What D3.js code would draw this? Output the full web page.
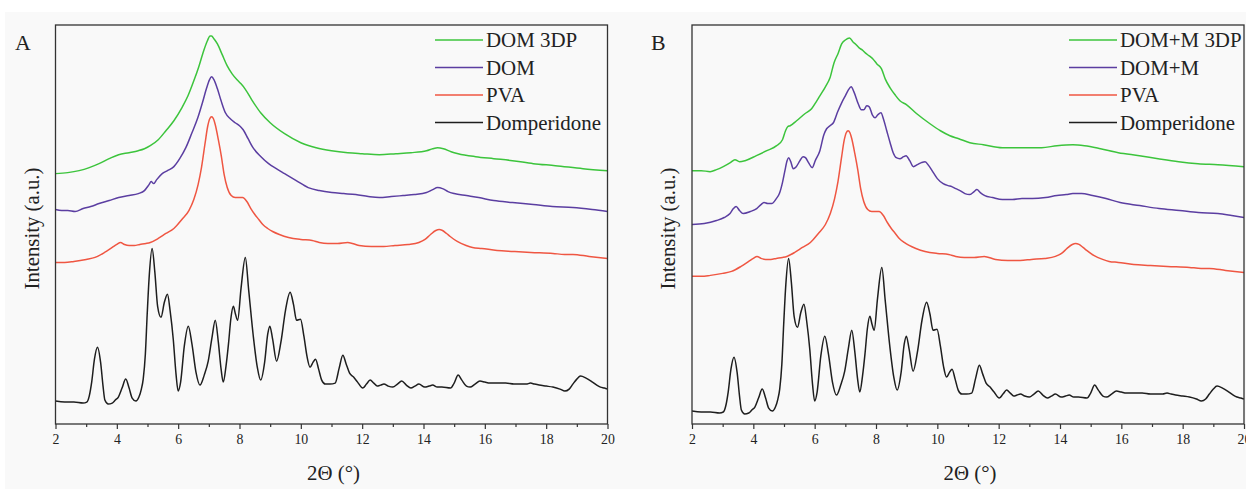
<!DOCTYPE html>
<html>
<head>
<meta charset="utf-8">
<script src="https://cdn.jsdelivr.net/npm/d3@7"></script>
<style>
  body { margin: 0; background: #fff; }
  svg text { font-family: "Liberation Serif", "DejaVu Serif", "Noto Serif", serif; fill: #222; }
</style>
</head>
<body>
<div id="chart"></div>
<script>
// XRD patterns: 2-theta (deg) vs intensity (a.u.)
const majorTicks = [2, 4, 6, 8, 10, 12, 14, 16, 18, 20];
const minorTicks = [3, 5, 7, 9, 11, 13, 15, 17, 19];

const domperidone = [[2.0,23],[2.3,22],[2.6,22],[2.9,21],[3.02,22],[3.1,28],[3.18,42],[3.27,65],[3.37,77],[3.47,62],[3.55,38],[3.61,24],[3.72,20],[3.85,21],[3.95,24],[4.05,27],[4.17,36],[4.29,45],[4.4,36],[4.5,26],[4.62,23],[4.72,27],[4.8,35],[4.86,45],[4.93,70],[4.99,110],[5.06,150],[5.15,176],[5.24,152],[5.33,118],[5.44,107],[5.55,122],[5.65,130],[5.74,113],[5.84,85],[5.93,50],[6.0,33],[6.08,42],[6.2,78],[6.33,98],[6.45,80],[6.58,52],[6.71,39],[6.85,49],[6.98,63],[7.1,86],[7.21,104],[7.31,82],[7.4,55],[7.47,42],[7.56,58],[7.64,80],[7.72,106],[7.8,118],[7.87,110],[7.94,104],[8.05,136],[8.19,167],[8.3,134],[8.45,88],[8.58,57],[8.69,44],[8.82,62],[8.92,90],[8.99,98],[9.08,85],[9.21,63],[9.35,82],[9.5,114],[9.65,132],[9.76,120],[9.86,104],[9.99,105],[10.1,88],[10.2,68],[10.3,57],[10.4,62],[10.48,65],[10.58,55],[10.68,44],[10.8,40],[10.95,40],[11.12,41],[11.25,56],[11.37,69],[11.48,60],[11.59,51],[11.72,47],[11.85,42],[12.02,36],[12.14,40],[12.26,44],[12.38,41],[12.49,38],[12.6,39],[12.71,40],[12.85,38],[13.0,37],[13.15,40],[13.29,43],[13.44,39],[13.59,36],[13.72,38],[13.85,40],[14.04,37],[14.18,38],[14.3,39],[14.45,37],[14.6,37],[14.88,36],[15.0,41],[15.13,49],[15.25,44],[15.4,38],[15.52,37],[15.68,40],[15.84,43],[16.0,42],[16.16,41],[16.4,41],[16.68,41],[16.95,40],[17.19,40],[17.35,40],[17.49,41],[17.62,40],[17.77,39],[18.0,38],[18.22,37],[18.45,35],[18.61,33],[18.75,35],[18.87,40],[19.0,45],[19.12,48],[19.3,46],[19.51,42],[19.65,39],[19.77,37],[19.9,36],[20.0,35]];

const pva = [[2.0,162],[2.3,162],[2.6,163],[3.0,165],[3.29,167],[3.6,172],[3.85,177],[4.0,180],[4.12,182],[4.25,180],[4.4,179],[4.57,179],[4.75,180],[4.95,181],[5.09,182],[5.35,186],[5.6,191],[5.86,196],[6.12,205],[6.35,214],[6.51,225],[6.65,240],[6.76,257],[6.88,282],[6.96,298],[7.03,306],[7.09,308],[7.15,306],[7.21,300],[7.31,285],[7.41,268],[7.5,250],[7.6,237],[7.73,229],[7.86,227],[8.0,227],[8.1,227],[8.24,223],[8.37,216],[8.5,210],[8.63,205],[8.76,200],[8.92,196],[9.08,193],[9.3,190],[9.6,187],[10.0,185],[10.37,184],[10.6,182],[10.88,181],[11.2,181],[11.53,182],[11.9,179],[12.3,178],[12.7,178],[13.07,179],[13.5,180],[13.85,182],[14.05,185],[14.23,190],[14.4,194],[14.51,195],[14.62,194],[14.75,191],[14.87,188],[15.1,183],[15.39,179],[15.6,177],[15.9,176],[16.4,174],[16.93,173],[17.5,172],[18.22,171],[18.6,170],[18.87,170],[19.4,168],[20.0,166]];

const dom = [[2.0,215],[2.2,214],[2.4,214],[2.64,213],[2.9,216],[3.15,218],[3.42,221],[3.75,224],[4.06,227],[4.4,229],[4.7,231],[4.9,234],[5.05,240],[5.12,243],[5.2,241],[5.3,245],[5.48,251],[5.65,254],[5.86,258],[6.05,266],[6.25,277],[6.45,292],[6.64,307],[6.8,323],[6.92,336],[7.02,345],[7.09,348],[7.17,345],[7.28,336],[7.4,324],[7.54,312],[7.7,306],[7.86,302],[8.0,299],[8.12,295],[8.28,286],[8.44,277],[8.7,268],[8.95,261],[9.2,256],[9.47,251],[9.85,244],[10.24,237],[10.6,234],[11.01,232],[11.4,231],[11.79,230],[12.2,228],[12.56,227],[12.95,228],[13.33,229],[13.7,230],[14.1,232],[14.3,235],[14.46,237],[14.62,236],[14.8,233],[15.0,231],[15.4,229],[15.8,227],[16.29,224],[16.9,222],[17.58,220],[18.2,218],[18.87,217],[19.5,215],[20.0,213]];

const dom3dp = [[2.0,251],[2.4,252],[2.77,254],[3.1,257],[3.42,261],[3.75,266],[4.06,270],[4.4,272],[4.7,274],[4.9,276],[5.09,279],[5.35,285],[5.6,294],[5.86,304],[6.12,317],[6.32,329],[6.51,344],[6.67,358],[6.83,374],[6.95,384],[7.04,389],[7.09,389],[7.17,386],[7.28,381],[7.44,370],[7.6,359],[7.76,351],[7.92,345],[8.05,341],[8.18,336],[8.4,325],[8.69,312],[9.0,302],[9.47,291],[10.0,282],[10.5,277],[11.0,274],[11.53,272],[12.0,271],[12.56,270],[13.1,271],[13.59,272],[14.1,274],[14.3,276],[14.46,277],[14.65,276],[14.9,273],[15.13,271],[15.7,268],[16.29,266],[16.9,264],[17.58,261],[18.3,259],[19.2,256],[20.0,254]];

const domM = [[2.0,200],[2.4,201],[2.8,204],[3.05,207],[3.24,211],[3.35,216],[3.44,218],[3.55,214],[3.67,211],[3.9,213],[4.11,216],[4.25,220],[4.35,222],[4.47,221],[4.6,221],[4.75,226],[4.85,231],[4.95,242],[5.03,254],[5.1,264],[5.15,267],[5.22,263],[5.3,256],[5.4,258],[5.52,264],[5.62,268],[5.7,267],[5.8,262],[5.92,257],[6.02,264],[6.17,274],[6.3,290],[6.39,296],[6.5,299],[6.61,302],[6.75,313],[6.88,322],[7.0,329],[7.1,335],[7.19,338],[7.28,333],[7.42,321],[7.52,315],[7.6,315],[7.7,319],[7.78,318],[7.88,310],[7.97,307],[8.06,310],[8.16,312],[8.25,305],[8.35,294],[8.46,282],[8.56,272],[8.66,267],[8.78,266],[8.9,268],[8.98,269],[9.1,264],[9.22,258],[9.35,260],[9.48,262],[9.6,263],[9.72,259],[9.87,252],[10.0,246],[10.19,241],[10.35,239],[10.47,238],[10.6,236],[10.74,234],[10.9,231],[11.06,230],[11.2,233],[11.29,235],[11.4,232],[11.55,229],[11.8,227],[12.12,225],[12.45,225],[12.76,226],[13.1,226],[13.53,227],[13.9,229],[14.2,230],[14.42,231],[14.7,231],[15.06,229],[15.5,226],[15.96,222],[16.6,219],[17.23,216],[17.9,214],[18.51,212],[19.15,211],[19.6,209],[20.0,207]];

const domM3dp = [[2.0,254],[2.3,254],[2.59,253],[2.8,255],[3.02,258],[3.25,262],[3.4,265],[3.55,263],[3.73,264],[4.1,269],[4.44,274],[4.76,279],[4.95,285],[5.05,294],[5.12,298],[5.2,299],[5.41,304],[5.68,311],[5.9,316],[6.05,323],[6.17,329],[6.35,338],[6.5,347],[6.63,362],[6.77,372],[6.88,381],[7.0,385],[7.14,387],[7.25,383],[7.33,381],[7.45,377],[7.55,375],[7.65,372],[7.78,369],[7.9,366],[8.03,361],[8.18,356],[8.3,346],[8.46,337],[8.62,330],[8.78,324],[9.0,320],[9.33,311],[9.76,301],[10.1,294],[10.41,289],[10.7,286],[11.06,282],[11.5,280],[12.12,277],[12.7,277],[13.4,277],[13.9,279],[14.42,280],[14.8,279],[15.32,276],[15.9,272],[16.59,269],[17.2,266],[17.87,263],[18.5,261],[19.15,260],[20.0,258]];

// series per panel, top legend entry first; offset = vertical stacking shift (a.u.)
const panelANames = ['DOM 3DP', 'DOM', 'PVA', 'Domperidone'];
const panelASeries = [dom3dp, dom, pva, domperidone];
const panelAOffsets = [0, 0, 0, 0];

const panelBNames = ['DOM+M 3DP', 'DOM+M', 'PVA', 'Domperidone'];
const panelBSeries = [domM3dp, domM, pva, domperidone];
const panelBOffsets = [0, 0, -14, -10];

const seriesColors = ['#3cc43c', '#5b3ea1', '#ef5642', '#1e1e1e'];

const W = 1246, H = 489;
const svg = d3.select('#chart').append('svg')
    .attr('width', W).attr('height', H);

// faint grey page tint like the scanned figure
svg.append('rect').attr('x', 5).attr('y', 12).attr('width', W - 5).attr('height', H - 12)
    .attr('fill', '#f9f9f9');

// pick a font size so that a sample string gets the width seen in the figure
function fitSize(sample, targetWidth) {
    const t = svg.append('text').style('font-size', '20px').text(sample);
    const w = t.node().getComputedTextLength();
    t.remove();
    return w > 0 ? 20 * targetWidth / w : 18;
}
const legendSize = fitSize('Domperidone', 115);
const tickSize = fitSize('16', 13.8);
const titleSize = fitSize('Intensity (a.u.)', 122);
const letterSize = Math.min(22, titleSize * 1.05);

function drawPanel(opts) {
    const top = 25, bottom = 424;
    const x = d3.scaleLinear().domain([2, 20]).range([opts.left, opts.right]);
    const y = d3.scaleLinear().domain([0, 400]).range([bottom, top]);
    const g = svg.append('g');

    const clipId = 'clip-' + opts.letter;
    g.append('clipPath').attr('id', clipId).append('rect')
        .attr('x', opts.left).attr('y', top)
        .attr('width', opts.right - opts.left).attr('height', bottom - top);

    const line = d3.line().curve(d3.curveMonotoneX);

    opts.series.forEach((s, i) => {
        g.append('path')
            .attr('clip-path', `url(#${clipId})`)
            .attr('d', line(s.map(d => [x(d[0]), y(d[1] + opts.offsets[i])])))
            .attr('fill', 'none')
            .attr('stroke', seriesColors[i])
            .attr('stroke-width', 1.5)
            .attr('stroke-linejoin', 'round');
    });

    // frame
    g.append('rect')
        .attr('x', opts.left).attr('y', top)
        .attr('width', opts.right - opts.left).attr('height', bottom - top)
        .attr('fill', 'none').attr('stroke', '#333').attr('stroke-width', 1.3);

    // bottom axis: major ticks with labels, minor ticks without
    const major = g.append('g').attr('transform', `translate(0,${bottom})`)
        .call(d3.axisBottom(x).tickValues(majorTicks).tickSize(5).tickPadding(5).tickFormat(d3.format('d')));
    const minor = g.append('g').attr('transform', `translate(0,${bottom})`)
        .call(d3.axisBottom(x).tickValues(minorTicks).tickSize(3).tickFormat(''));
    [major, minor].forEach(a => {
        a.attr('font-family', null);
        a.select('.domain').remove();
        a.selectAll('line').attr('stroke', '#333').attr('stroke-width', 1.2);
    });
    major.selectAll('text')
        .style('font-size', tickSize + 'px')
        .attr('fill', '#333');

    // axis titles
    g.append('text')
        .attr('x', (opts.left + opts.right) / 2 + 2)
        .attr('y', 480)
        .attr('text-anchor', 'middle')
        .style('font-size', titleSize + 'px')
        .text('2\u0398 (\u00b0)');

    g.append('text')
        .attr('transform', `translate(${opts.left - 17},${(top + bottom) / 2 + 4}) rotate(-90)`)
        .attr('text-anchor', 'middle')
        .style('font-size', titleSize + 'px')
        .text('Intensity (a.u.)');

    // panel letter
    g.append('text')
        .attr('x', opts.letterX).attr('y', 50)
        .style('font-size', letterSize + 'px')
        .text(opts.letter);

    // legend
    const legend = g.append('g');
    opts.names.forEach((name, i) => {
        const ly = 40 + i * 27.5;
        legend.append('line')
            .attr('x1', opts.legendX).attr('x2', opts.legendX + 48)
            .attr('y1', ly).attr('y2', ly)
            .attr('stroke', seriesColors[i]).attr('stroke-width', 1.5);
        legend.append('text')
            .attr('x', opts.legendX + 51).attr('y', ly + 7)
            .style('font-size', legendSize + 'px')
            .text(name);
    });
}

drawPanel({ letter: 'A', letterX: 15, left: 55.5, right: 607.5, legendX: 435,
    names: panelANames, series: panelASeries, offsets: panelAOffsets });
drawPanel({ letter: 'B', letterX: 651, left: 692, right: 1244, legendX: 1069,
    names: panelBNames, series: panelBSeries, offsets: panelBOffsets });
</script>
</body>
</html>
